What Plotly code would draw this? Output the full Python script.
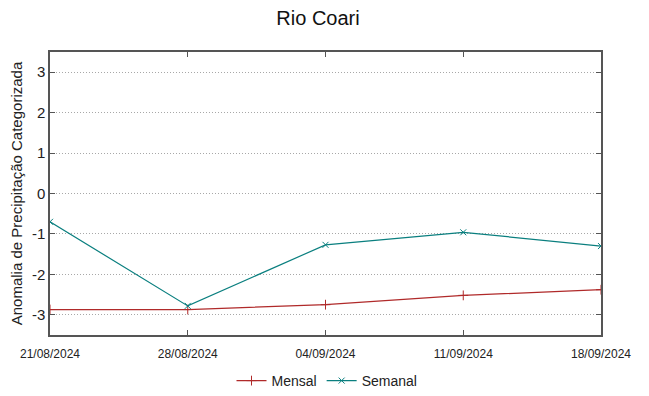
import plotly.graph_objects as go

dates = ["2024-08-21", "2024-08-28", "2024-09-04", "2024-09-11", "2024-09-18"]
tick_labels = ["21/08/2024", "28/08/2024", "04/09/2024", "11/09/2024", "18/09/2024"]
mensal = [-2.87, -2.87, -2.75, -2.52, -2.38]
semanal = [-0.70, -2.78, -1.27, -0.96, -1.30]
y_ticks = [-3, -2, -1, 0, 1, 2, 3]
y_tick_text = ["-3", "-2", "-1", "0", "1", "2", "3"]

red = "#b02a2a"
teal = "#0a7f7f"

# page body adds an 8px offset; margins compensate so the plot lands where the reference has it
off = 8
W, H = 649, 396
m_l, m_t, m_r, m_b = 50 - off, 52 - off, 48 + off, 61 + off
plot_h = H - m_t - m_b

fig = go.Figure()
fig.add_trace(go.Scatter(
    x=dates, y=mensal, name="Mensal", mode="lines+markers",
    line=dict(color=red, width=1.2),
    marker=dict(symbol="cross-thin", size=7, line=dict(color=red, width=1), color=red),
))
fig.add_trace(go.Scatter(
    x=dates, y=semanal, name="Semanal", mode="lines+markers",
    line=dict(color=teal, width=1.2),
    marker=dict(symbol="x-thin", size=6, line=dict(color=teal, width=1), color=teal),
))

fig.update_layout(
    width=W, height=H,
    margin=dict(l=m_l, r=m_r, t=m_t, b=m_b, autoexpand=False),
    paper_bgcolor="white", plot_bgcolor="white",
    font=dict(family="Liberation Sans, Arial, sans-serif", color="#222"),
    title=dict(text="Rio Coari", x=(318 - off) / W, xanchor="center", y=(H - (18 - off)) / H, yanchor="middle",
               font=dict(size=20, color="#111")),
    showlegend=True,
    legend=dict(orientation="h", x=(327 - off - m_l) / (W - m_l - m_r), xanchor="center",
                y=-46 / plot_h, yanchor="middle",
                font=dict(size=14, color="#222"), bgcolor="rgba(0,0,0,0)"),
)
fig.update_xaxes(
    type="date", range=[dates[0], dates[-1]], automargin=False,
    tickvals=dates, ticktext=tick_labels, tickfont=dict(size=12, color="#222"),
    ticklabelstandoff=7,
    showline=True, linecolor="#555", linewidth=1.5, mirror="ticks",
    ticks="inside", ticklen=5, tickcolor="#555",
    showgrid=False, zeroline=False,
)
fig.update_yaxes(
    range=[-3.5, 3.5], tickvals=y_ticks, ticktext=y_tick_text, automargin=False,
    tickfont=dict(size=15, color="#222"),
    title=dict(text="Anomalia de Precipitação Categorizada", font=dict(size=15, color="#222"), standoff=10),
    showline=True, linecolor="#555", linewidth=1.5, mirror="ticks",
    ticks="inside", ticklen=5, tickcolor="#555",
    showgrid=True, gridcolor="#a8a8a8", griddash="1px,2px", gridwidth=1, zeroline=False,
)

fig.write_html("out.html")
